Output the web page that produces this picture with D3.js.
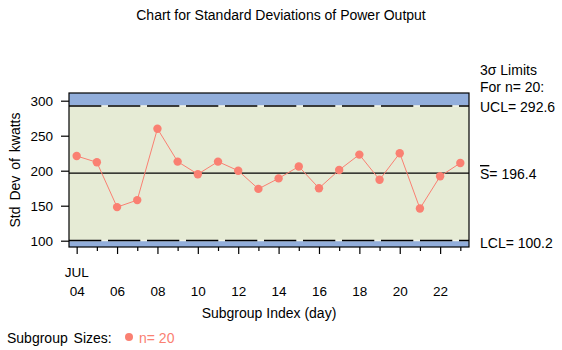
<!DOCTYPE html>
<html>
<head>
<meta charset="utf-8">
<script src="https://cdn.jsdelivr.net/npm/d3@7"></script>
<style>
  body { margin: 0; background: #fff; }
  text { font-family: "Liberation Sans", Arial, sans-serif; fill: #000; }
</style>
</head>
<body>
<svg id="chart"></svg>
<script>
// subgroup index (day of July) and std dev of each subgroup
let days = [4, 5, 6, 7, 8, 9, 10, 11, 12, 13, 14, 15, 16, 17, 18, 19, 20, 21, 22, 23];
let stdDevs = [221, 212, 148, 158, 260, 213, 195, 213, 200, 174, 189, 206, 175, 201, 223, 187, 225, 146, 192, 211];
let yTicks = [100, 150, 200, 250, 300];
let xTickLabels = [4, 6, 8, 10, 12, 14, 16, 18, 20, 22];
let limits = { ucl: 292.6, center: 196.4, lcl: 100.2 };

let width = 562;
let height = 350;
let plotLeft = 69, plotRight = 469, plotTop = 93, plotBottom = 247;

let svg = d3.select('#chart')
  .attr('width', width)
  .attr('height', height);

let xScale = d3.scaleLinear().domain([3.62, 23.43]).range([plotLeft, plotRight]);
let yScale = d3.scaleLinear().domain([91, 311]).range([plotBottom, plotTop]);

// background + limit bands
svg.append('rect')
  .attr('x', plotLeft).attr('y', plotTop)
  .attr('width', plotRight - plotLeft).attr('height', plotBottom - plotTop)
  .attr('fill', '#e6ebd5');

svg.append('rect')
  .attr('x', plotLeft).attr('y', plotTop)
  .attr('width', plotRight - plotLeft).attr('height', yScale(limits.ucl) - plotTop)
  .attr('fill', '#92aedb');

svg.append('rect')
  .attr('x', plotLeft).attr('y', yScale(limits.lcl))
  .attr('width', plotRight - plotLeft).attr('height', plotBottom - yScale(limits.lcl))
  .attr('fill', '#92aedb');

// UCL / LCL dashed lines
[limits.ucl, limits.lcl].forEach(v => {
  svg.append('line')
    .attr('x1', plotLeft).attr('x2', plotRight)
    .attr('y1', yScale(v)).attr('y2', yScale(v))
    .attr('stroke', '#f2f4e8').attr('stroke-width', 1.5);
  svg.append('line')
    .attr('x1', plotLeft).attr('x2', plotRight)
    .attr('y1', yScale(v)).attr('y2', yScale(v))
    .attr('stroke', '#000').attr('stroke-width', 1.5)
    .attr('stroke-dasharray', '32.3,6.7');
});

// center line
svg.append('line')
  .attr('x1', plotLeft).attr('x2', plotRight)
  .attr('y1', yScale(limits.center)).attr('y2', yScale(limits.center))
  .attr('stroke', '#000').attr('stroke-width', 1.2);

// frame
svg.append('rect')
  .attr('x', plotLeft).attr('y', plotTop)
  .attr('width', plotRight - plotLeft).attr('height', plotBottom - plotTop)
  .attr('fill', 'none').attr('stroke', '#000').attr('stroke-width', 1.2);

// y axis
let yAxis = d3.axisLeft(yScale)
  .tickValues(yTicks)
  .tickSize(8)
  .tickPadding(8);

let yG = svg.append('g')
  .attr('transform', 'translate(' + plotLeft + ',0)')
  .call(yAxis);
yG.select('.domain').remove();
yG.selectAll('text').style('font-size', '13.5px');

// x axis: minor ticks every day, major on even days
let xMinor = d3.axisBottom(xScale)
  .tickValues(days.filter(d => d % 2 === 1))
  .tickSize(4)
  .tickFormat('');
let xMinorG = svg.append('g')
  .attr('transform', 'translate(0,' + plotBottom + ')')
  .call(xMinor);
xMinorG.select('.domain').remove();

let xAxis = d3.axisBottom(xScale)
  .tickValues(xTickLabels)
  .tickSize(7)
  .tickPadding(32)
  .tickFormat(d => d3.format('02d')(d));
let xG = svg.append('g')
  .attr('transform', 'translate(0,' + plotBottom + ')')
  .call(xAxis);
xG.select('.domain').remove();
xG.selectAll('text').style('font-size', '13.5px');
svg.selectAll('.tick line').attr('stroke-width', 1.2);

svg.append('text')
  .attr('x', xScale(4)).attr('y', 277)
  .attr('text-anchor', 'middle')
  .style('font-size', '13.5px')
  .text('JUL');

// series
svg.append('path')
  .datum(days.map((d, i) => [d, stdDevs[i]]))
  .attr('fill', 'none')
  .attr('stroke', '#fa8072')
  .attr('stroke-width', 1)
  .attr('d', d3.line().x(d => xScale(d[0])).y(d => yScale(d[1])));

svg.selectAll('circle.pt')
  .data(days)
  .enter()
  .append('circle')
  .attr('class', 'pt')
  .attr('cx', d => xScale(d))
  .attr('cy', (d, i) => yScale(stdDevs[i]))
  .attr('r', 4.2)
  .attr('fill', '#fa8072');

// titles
svg.append('text')
  .attr('x', 281).attr('y', 20)
  .attr('text-anchor', 'middle')
  .style('font-size', '14px')
  .text('Chart for Standard Deviations of Power Output');

svg.append('text')
  .attr('transform', 'translate(20,170) rotate(-90)')
  .attr('text-anchor', 'middle')
  .style('font-size', '14px')
  .style('word-spacing', '2px')
  .text('Std Dev of kwatts');

svg.append('text')
  .attr('x', (plotLeft + plotRight) / 2).attr('y', 318)
  .attr('text-anchor', 'middle')
  .style('font-size', '14px')
  .text('Subgroup Index (day)');

// limit labels
let rx = 480;
svg.append('text').attr('x', rx).attr('y', 75).style('font-size', '14px').text('3σ Limits');
svg.append('text').attr('x', rx).attr('y', 92).style('font-size', '14px').text('For n= 20:');
svg.append('text').attr('x', rx).attr('y', 112).style('font-size', '14px').text('UCL= ' + limits.ucl);
let sText = svg.append('text').attr('x', rx).attr('y', 179).style('font-size', '14px');
sText.append('tspan').style('text-decoration', 'overline').text('S');
sText.append('tspan').text('= ' + limits.center);
svg.append('text').attr('x', rx).attr('y', 248).style('font-size', '14px').text('LCL= ' + limits.lcl);

// subgroup size legend
svg.append('text').attr('x', 7).attr('y', 343).style('font-size', '14px').style('word-spacing', '2px').text('Subgroup Sizes:');
svg.append('circle').attr('cx', 129).attr('cy', 337).attr('r', 4).attr('fill', '#fa8072');
svg.append('text').attr('x', 139).attr('y', 343).style('font-size', '14px').style('fill', '#fa8072').text('n= 20');
</script>
</body>
</html>
